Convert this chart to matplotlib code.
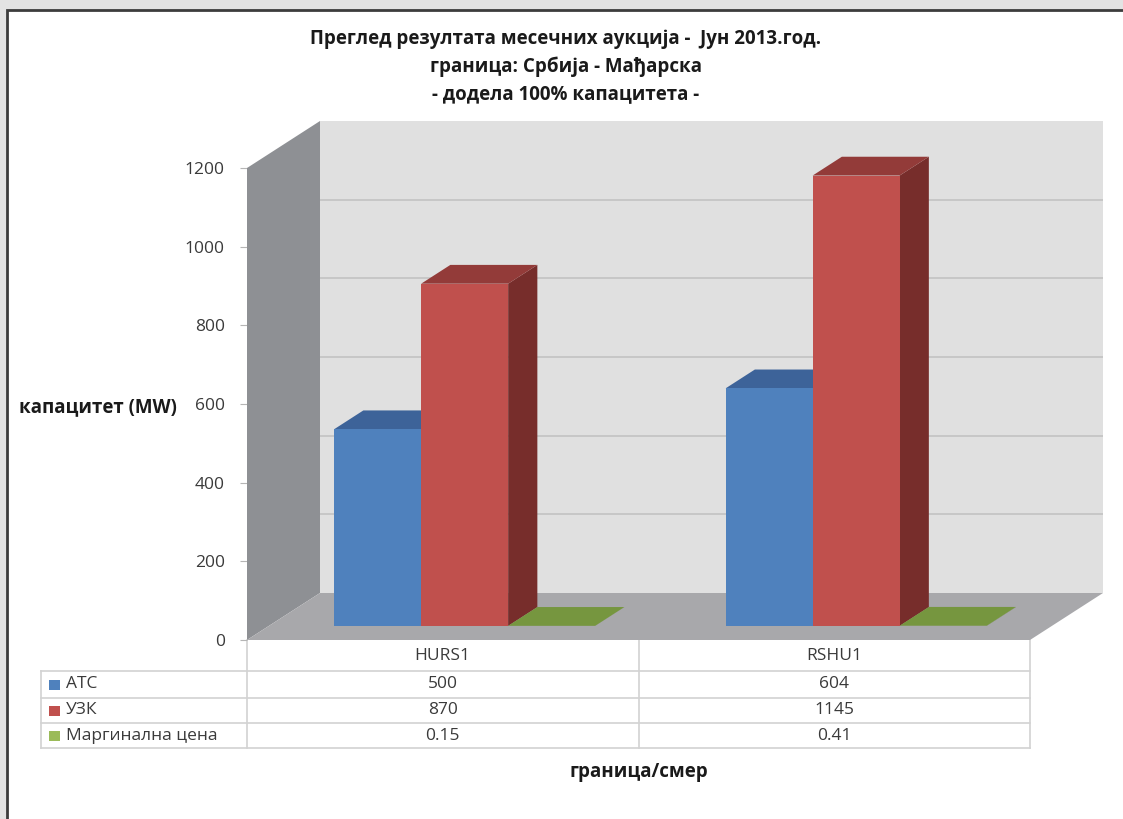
import matplotlib
matplotlib.use("Agg")
import matplotlib.pyplot as plt
from matplotlib.patches import Rectangle, Polygon
import matplotlib.transforms as mtransforms

plt.rcParams['font.family'] = ['Open Sans', 'Noto Sans', 'DejaVu Sans']

# ---- data ----
categories = ["HURS1", "RSHU1"]
series_names = ["АТС", "УЗК", "Маргинална цена"]
atc = [500, 604]
uzk = [870, 1145]
marg = [0.15, 0.41]
marg_labels = ["0.15", "0.41"]
yticks = [0, 200, 400, 600, 800, 1000, 1200]

title_lines = ["Преглед резултата месечних аукција -  Јун 2013.год.",
               "граница: Србија - Мађарска",
               "- додела 100% капацитета -"]
ylabel = "капацитет (MW)"
xlabel = "граница/смер"

front_cols = ["#4F81BD", "#C0504D", "#9BBB59"]
top_cols = ["#3D6399", "#933B39", "#76963F"]
side_cols = ["#345585", "#772D2B", "#5E7A31"]

# ---- layout ----
W, H = 1123, 819
fig = plt.figure(figsize=(W / 100, H / 100), dpi=100)
fig.patch.set_facecolor("#E3E3E3")

def fx(px):
    return px / W

def fy(py):
    return 1 - py / H

fig.patches.append(Rectangle((fx(7), fy(900)), 1.2, fy(10) - fy(900),
                             transform=fig.transFigure, facecolor="white",
                             edgecolor="#3C3C3C", linewidth=2, zorder=-5))

# front plane: x 247..1030 px, y 640 (0) .. 168 (1200)
x_left, x_right = 247, 1030
y_zero, y_top = 640, 168
cat_px = (x_right - x_left) / 2
val_px = (y_zero - y_top) / 1200
depth_px = (73, 47)
DX = depth_px[0] / cat_px
DY = depth_px[1] / val_px
YMAX = 1200

ax = fig.add_axes([fx(x_left), fy(y_zero),
                   fx(x_left + cat_px * (2 + DX)) - fx(x_left),
                   fy(y_zero - val_px * (YMAX + DY)) - fy(y_zero)])
ax.set_zorder(2)
ax.set_xlim(0, 2 + DX)
ax.set_ylim(0, YMAX + DY)
ax.patch.set_visible(False)
for s in ax.spines.values():
    s.set_visible(False)
ax.set_xticks([])
ax.set_yticks(yticks)
ax.set_yticklabels([str(t) for t in yticks])
ax.tick_params(axis="y", length=5, color="#B5B5B5", pad=11,
               labelsize=12.5, labelcolor="#3A3A3A")

ncat = len(categories)
# back wall
ax.add_patch(Polygon([(DX, DY), (ncat + DX, DY), (ncat + DX, YMAX + DY), (DX, YMAX + DY)],
                     closed=True, facecolor="#E0E0E0", edgecolor="none", zorder=1))
for t in yticks[1:-1]:
    ax.plot([DX, ncat + DX], [t + DY, t + DY], color="#C5C5C5", lw=1.3, zorder=1.5)
# left wall
ax.add_patch(Polygon([(0, 0), (DX, DY), (DX, YMAX + DY), (0, YMAX)],
                     closed=True, facecolor="#8E9094", edgecolor="none", zorder=2))
# floor
ax.add_patch(Polygon([(0, 0), (ncat, 0), (ncat + DX, DY), (DX, DY)],
                     closed=True, facecolor="#A8A8AB", edgecolor="none", zorder=2))

# bars
nser = 3
gap = 1.5
w = 1 / (nser + gap)
d_front, d_back = 0.3, 0.7
series = [atc, uzk, marg]
z = 3
for j in range(ncat):
    for i in range(nser):
        v = series[i][j]
        x0 = j + gap * w / 2 + i * w + d_front * DX
        y0 = d_front * DY
        ddx = (d_back - d_front) * DX
        ddy = (d_back - d_front) * DY
        # side face
        ax.add_patch(Polygon([(x0 + w, y0), (x0 + w + ddx, y0 + ddy),
                              (x0 + w + ddx, y0 + ddy + v), (x0 + w, y0 + v)],
                             closed=True, facecolor=side_cols[i], edgecolor="none", zorder=z))
        # top face
        ax.add_patch(Polygon([(x0, y0 + v), (x0 + w, y0 + v),
                              (x0 + w + ddx, y0 + v + ddy), (x0 + ddx, y0 + v + ddy)],
                             closed=True, facecolor=top_cols[i], edgecolor="none", zorder=z))
        # front face
        ax.bar([x0], [v], width=w, bottom=y0, align="edge",
               color=front_cols[i], edgecolor="none", zorder=z + 0.5)
        z += 1

# ---- table ----
bt = mtransforms.blended_transform_factory(ax.transData, fig.transFigure)
row_y = [640, 671, 698, 723, 748]
grid_c = "#D2D2D2"
tab_left = 41
for yy in row_y[1:]:
    fig.add_artist(plt.Line2D([fx(tab_left), fx(x_right)], [fy(yy), fy(yy)],
                              color=grid_c, lw=1.2, transform=fig.transFigure))
fig.add_artist(plt.Line2D([fx(tab_left), fx(tab_left)], [fy(row_y[1]), fy(row_y[-1])],
                          color=grid_c, lw=1.2, transform=fig.transFigure))
for k in range(ncat + 1):
    fig.add_artist(plt.Line2D([k, k], [fy(row_y[0]), fy(row_y[-1])],
                              color=grid_c, lw=1.2, transform=bt))

txt_c = "#3A3A3A"
fs_tab = 12.5
for j, c in enumerate(categories):
    fig.text(j + 0.5, fy((row_y[0] + row_y[1]) / 2), c, transform=bt,
             ha="center", va="center", fontsize=fs_tab, color=txt_c)
vals = [[str(v) for v in atc], [str(v) for v in uzk], marg_labels]
for i in range(nser):
    yc = fy((row_y[i + 1] + row_y[i + 2]) / 2)
    fig.patches.append(Rectangle((fx(49), yc - 5 / H), 11 / W, 10 / H,
                                 transform=fig.transFigure, facecolor=front_cols[i],
                                 edgecolor="none"))
    fig.text(fx(66), yc, series_names[i], ha="left", va="center",
             fontsize=fs_tab, color=txt_c)
    for j in range(ncat):
        fig.text(j + 0.5, yc, vals[i][j], transform=bt,
                 ha="center", va="center", fontsize=fs_tab, color=txt_c)

# ---- titles ----
for k, (t, yy) in enumerate(zip(title_lines, [39, 67, 94])):
    fig.text(fx(566), fy(yy), t, ha="center", va="center",
             fontsize=13.5, fontweight="bold", color="#1A1A1A")
fig.text(fx(177), fy(407), ylabel, ha="right", va="center",
         fontsize=13.5, fontweight="bold", color="#1A1A1A")
fig.text(1.0, fy(772), xlabel, transform=bt, ha="center", va="center",
         fontsize=13.5, fontweight="bold", color="#1A1A1A")

fig.savefig("out.png", dpi=100, facecolor=fig.get_facecolor())
